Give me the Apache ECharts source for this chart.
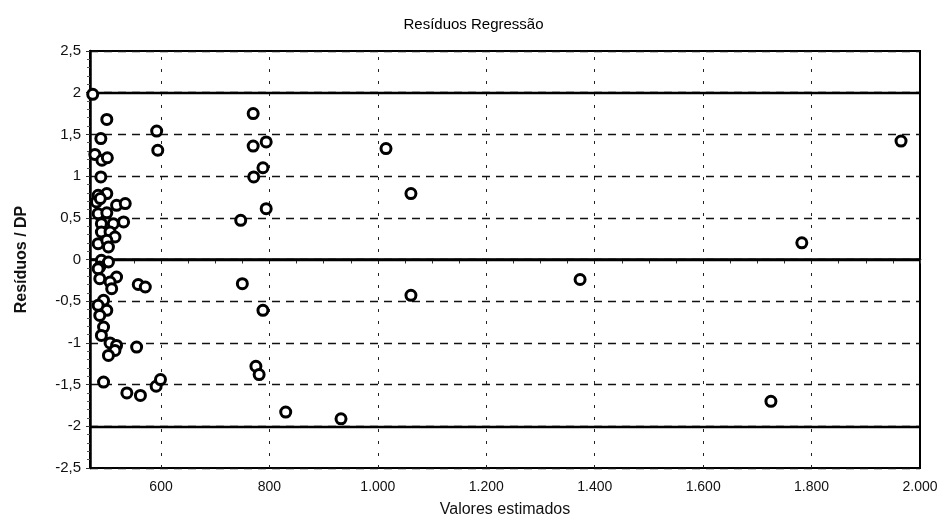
<!DOCTYPE html>
<html>
<head>
<meta charset="utf-8">
<script src="https://cdn.jsdelivr.net/npm/echarts@6/dist/echarts.min.js"></script>
<style>html,body{margin:0;padding:0;background:#fff}#c{width:947px;height:524px}</style>
</head>
<body>
<div id="c"></div>
<script>
const titleText = "Resíduos Regressão";
const xName = "Valores estimados";
const yName = "Resíduos / DP";
const xTicks = [600, 800, 1000, 1200, 1400, 1600, 1800, 2000];
const xMinorTicks = [500,550,600,650,700,750,800,850,900,950,1000,1050,1100,1150,1200,1250,1300,1350,1400,1450,1500,1550,1600,1650,1700,1750,1800,1850,1900,1950,2000];
const solidLines = [2, 0, -2];
const xValues = [474,500,489,478,491,501,489,592,594,770,770,794,788,771,794,747,500,484,481,488,518,534,484,500,531,512,490,490,506,515,484,500,503,490,503,487,484,518,487,506,509,558,571,494,484,500,487,494,490,506,518,515,503,555,494,537,562,591,599,750,788,775,781,1015,1061,1061,830,932,1965,1782,1373,1725];
const yValues = [1.98,1.68,1.45,1.26,1.19,1.22,0.99,1.54,1.31,1.75,1.36,1.41,1.10,0.99,0.61,0.47,0.79,0.77,0.69,0.73,0.65,0.67,0.55,0.56,0.45,0.43,0.43,0.33,0.33,0.27,0.19,0.23,0.15,-0.01,-0.03,-0.09,-0.11,-0.21,-0.23,-0.27,-0.35,-0.30,-0.33,-0.49,-0.55,-0.61,-0.67,-0.81,-0.91,-1.00,-1.03,-1.09,-1.15,-1.05,-1.47,-1.60,-1.63,-1.52,-1.44,-0.29,-0.61,-1.28,-1.38,1.33,0.79,-0.43,-1.83,-1.91,1.42,0.20,-0.24,-1.70];

const pts = xValues.map((x, i) => [x, yValues[i]]);
const fmtX = v => String(v).replace(/\B(?=(\d{3})+(?!\d))/g, '.');
const fmtY = v => String(v).replace('.', ',');

const markData = [];
xTicks.slice(0, -1).forEach(v => markData.push({ xAxis: v, lineStyle: { color: '#222', width: 1, type: [3, 9] } }));
solidLines.forEach(v => markData.push({ yAxis: v, lineStyle: { color: '#000', width: 2.4, type: 'solid' } }));

const chart = echarts.init(document.getElementById('c'), null, { renderer: 'canvas' });
chart.setOption({
  backgroundColor: '#fff',
  animation: false,
  textStyle: { fontFamily: 'Liberation Sans, Arial, sans-serif' },
  title: {
    text: titleText, left: 'center', top: 12,
    textStyle: { fontSize: 15, fontWeight: 'normal', color: '#000', fontFamily: 'Liberation Sans, Arial, sans-serif' }
  },
  grid: { left: 90, right: 27, top: 51, bottom: 56, show: true, borderColor: '#000', borderWidth: 2, backgroundColor: 'transparent' },
  xAxis: {
    type: 'value', min: 469, max: 2000,
    name: xName, nameLocation: 'middle', nameGap: 34,
    nameTextStyle: { fontSize: 16, color: '#111' },
    axisLine: { show: true, lineStyle: { color: '#000', width: 2.5 } },
    axisTick: { show: true, customValues: xMinorTicks, length: 4, lineStyle: { color: '#333' } },
    axisLabel: { customValues: xTicks, formatter: fmtX, fontSize: 14, color: '#111', margin: 12 },
    splitLine: { show: false }
  },
  yAxis: {
    type: 'value', min: -2.5, max: 2.5, interval: 0.5,
    name: yName, nameLocation: 'middle', nameGap: 60, nameRotate: 90,
    nameTextStyle: { fontSize: 16, fontWeight: 'bold', color: '#111' },
    axisLine: { show: true, lineStyle: { color: '#000', width: 2.5 } },
    axisTick: { show: true, length: 4, lineStyle: { color: '#333' } },
    minorTick: { show: true, splitNumber: 5, length: 3, lineStyle: { color: '#555' } },
    axisLabel: { formatter: fmtY, fontSize: 15, color: '#111', margin: 9 },
    splitLine: { show: true, lineStyle: { color: '#111', width: 1.4, type: [8, 6] } }
  },
  series: [{
    type: 'scatter',
    data: pts,
    symbol: 'circle',
    symbolSize: 10,
    itemStyle: { color: '#fff', borderColor: '#000', borderWidth: 3, opacity: 1 },
    z: 5,
    markLine: {
      silent: true, symbol: 'none', label: { show: false }, animation: false,
      data: markData
    }
  }]
});
</script>
</body>
</html>
